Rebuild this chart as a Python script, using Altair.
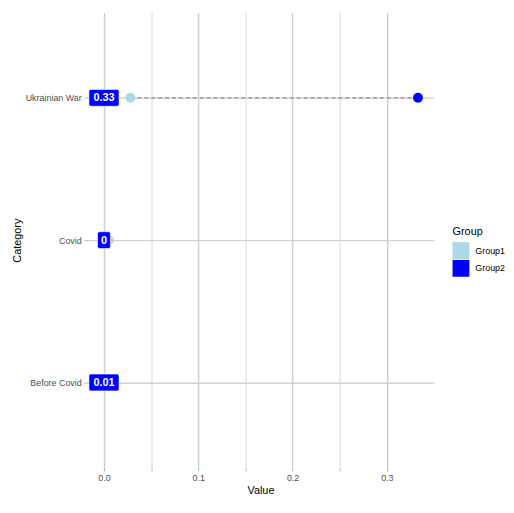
import altair as alt
import pandas as pd

categories = ["Ukrainian War", "Covid", "Before Covid"]
group1_values = [0.028, 0.005, 0.008]
group2_values = [0.333, 0.0, 0.01]
groups = ["Group1", "Group2"]
group_colors = ["#add8e6", "#0000ff"]
x_ticks = [0.0, 0.05, 0.1, 0.15, 0.2, 0.25, 0.3]

long_df = pd.DataFrame({
    "Category": categories * 2,
    "Group": ["Group1"] * 3 + ["Group2"] * 3,
    "Value": group1_values + group2_values,
})
wide_df = pd.DataFrame({
    "Category": categories,
    "g1": group1_values,
    "g2": group2_values,
    "label": [f"{round(v, 2):g}" for v in group2_values],
    "zero": [0.0] * 3,
})

FONT = "Liberation Sans"

xscale = alt.Scale(domain=[-0.0178, 0.3497], nice=False, zero=False)
yscale = alt.Scale(type="point", padding=0.6)

y_enc = alt.Y(
    "Category:N", sort=categories, scale=yscale, title="Category",
    axis=alt.Axis(grid=True, gridColor="#d2d2d2", gridWidth=1.4, domain=False,
                  tickSize=3, tickColor="#b0b0b0", labelPadding=3,
                  labelFontSize=9, labelColor="#4d4d4d", labelFont=FONT,
                  titleFont=FONT, titleFontSize=11, titleFontWeight="normal",
                  titleColor="#000000", titlePadding=3),
)

major_test = "abs(round(datum.value*10) - datum.value*10) < 0.001"
x_axis = alt.Axis(
    values=x_ticks,
    labelExpr=major_test + " ? format(datum.value, '.1f') : ''",
    grid=True,
    gridColor=alt.condition(major_test, alt.value("#d0d0d0"), alt.value("#dadada")),
    gridWidth=alt.condition(major_test, alt.value(1.5), alt.value(1.0)),
    domain=False, tickSize=3, tickColor="#b0b0b0", labelPadding=3,
    labelFontSize=9, labelColor="#4d4d4d", labelFont=FONT,
    titleFont=FONT, titleFontSize=11, titleFontWeight="normal",
    titleColor="#000000", titlePadding=2,
)

segments = alt.Chart(wide_df).mark_rule(
    color="#8c8c8c", strokeDash=[4, 3], strokeWidth=1.4
).encode(
    x=alt.X("g1:Q", scale=xscale, axis=x_axis, title="Value"),
    x2="g2:Q",
    y=y_enc,
)

points = alt.Chart(long_df).mark_circle(size=100, opacity=1).encode(
    x=alt.X("Value:Q", scale=xscale),
    y=alt.Y("Category:N", sort=categories, scale=yscale),
    color=alt.Color(
        "Group:N",
        scale=alt.Scale(domain=groups, range=group_colors),
        legend=alt.Legend(
            title="Group", orient="none", legendX=369, legendY=216,
            symbolType="square", symbolSize=289, symbolStrokeWidth=0,
            symbolOpacity=1, rowPadding=1, labelOffset=6,
            labelFontSize=9, labelFont=FONT, labelColor="#000000",
            titleFontSize=11, titleFont=FONT, titleFontWeight="normal",
            titleColor="#000000", titlePadding=5,
        ),
    ),
)

box_path = (
    "'M' + (-datum.hw + 2) + ',-8.5'"
    " + 'L' + (datum.hw - 2) + ',-8.5'"
    " + 'A2,2 0 0 1 ' + datum.hw + ',-6.5'"
    " + 'L' + datum.hw + ',6.5'"
    " + 'A2,2 0 0 1 ' + (datum.hw - 2) + ',8.5'"
    " + 'L' + (-datum.hw + 2) + ',8.5'"
    " + 'A2,2 0 0 1 ' + (-datum.hw) + ',6.5'"
    " + 'L' + (-datum.hw) + ',-6.5'"
    " + 'A2,2 0 0 1 ' + (-datum.hw + 2) + ',-8.5Z'"
)

boxes = alt.Chart(wide_df).transform_calculate(
    hw="2.9 * length(datum.label) + 3.6"
).transform_calculate(
    path=box_path
).mark_point(
    filled=True, fill="#0000ff", stroke="#ffffff", strokeWidth=0.6, opacity=1
).encode(
    x=alt.X("zero:Q", scale=xscale),
    y=alt.Y("Category:N", sort=categories, scale=yscale),
    shape=alt.Shape("path:N", scale=None, legend=None),
    size=alt.value(4),
)

texts = alt.Chart(wide_df).mark_text(
    color="#ffffff", fontWeight="bold", fontSize=11, font=FONT,
    align="center", baseline="middle", dy=0.5
).encode(
    x=alt.X("zero:Q", scale=xscale),
    y=alt.Y("Category:N", sort=categories, scale=yscale),
    text="label:N",
)

chart = alt.layer(segments, points, boxes, texts).properties(
    width=350, height=460,
    autosize="none",
    padding={"left": 80, "top": 2, "right": 73, "bottom": 31},
).configure_view(stroke=None).configure_axis(
    labelFont=FONT, titleFont=FONT
)

chart.save("out.html", embed_options={"renderer": "svg", "actions": False})
